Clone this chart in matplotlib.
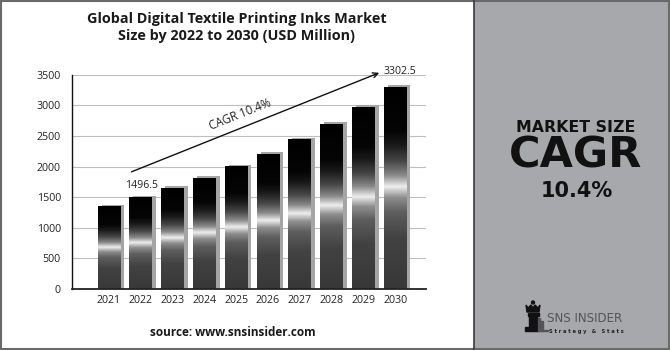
import numpy as np
import matplotlib
matplotlib.use("Agg")
import matplotlib.pyplot as plt
import matplotlib.transforms as mtransforms
from matplotlib.patches import Rectangle, Polygon, Circle
from matplotlib.colors import LinearSegmentedColormap

# ---------------- data ----------------
years = ["2021", "2022", "2023", "2024", "2025", "2026", "2027", "2028", "2029", "2030"]
values = [1350, 1496.5, 1650, 1815, 2005, 2210, 2445, 2700, 2975, 3302.5]
y_ticks = [0, 500, 1000, 1500, 2000, 2500, 3000, 3500]
title = "Global Digital Textile Printing Inks Market\nSize by 2022 to 2030 (USD Million)"
cagr_text = "CAGR 10.4%"
source_text = "source: www.snsinsider.com"

W, H = 670, 350
fig = plt.figure(figsize=(W / 100, H / 100), dpi=100)
fig.patch.set_facecolor("white")

# overlay axes in pixel coordinates for decoration
deco = fig.add_axes([0, 0, 1, 1], zorder=0)
deco.set_xlim(0, W)
deco.set_ylim(H, 0)
deco.axis("off")

# right grey panel
deco.add_patch(Rectangle((474, 0), W - 474, H, facecolor="#a7a8ab", edgecolor="none"))
deco.plot([474, 474], [0, H], color="#3a3a3a", lw=1.2)
# outer border
deco.add_patch(Rectangle((0.7, 0.7), W - 1.4, H - 1.4, facecolor="none", edgecolor="#6a6a6a", lw=1.5))

# right panel texts
deco.text(576, 128, "MARKET SIZE", ha="center", va="center", fontsize=11.3,
          fontweight="bold", family="DejaVu Sans", color="#111111")
deco.text(576, 156, "CAGR", ha="center", va="center", fontsize=31,
          fontweight="bold", family="DejaVu Sans", color="#111111")
deco.text(577, 191, "10.4%", ha="center", va="center", fontsize=15,
          fontweight="bold", family="DejaVu Sans", color="#111111")

# logo (chess piece + text)
k = "#111111"
deco.add_patch(Circle((533, 302.5), 1.5, color=k))
deco.add_patch(Polygon([(526, 305), (528, 308), (531, 305), (533, 308), (535, 305),
                        (538, 308), (540, 305), (539, 312), (527, 312)], closed=True, color=k))
deco.add_patch(Rectangle((527.5, 313), 11, 2.5, color=k))
deco.add_patch(Rectangle((529, 316), 8, 11, color=k))
deco.add_patch(Rectangle((525, 327), 14, 4, color=k))
deco.add_patch(Rectangle((538, 318), 1.8, 13, color="#555555"))
deco.add_patch(Rectangle((541, 321), 1.8, 10, color="#555555"))
deco.add_patch(Rectangle((541, 329.5), 7, 1.5, color="#555555"))
deco.text(547, 319, "SNS INSIDER", ha="left", va="center", fontsize=8.6,
          family="DejaVu Sans", color="#555555")
deco.text(549, 331, "S t r a t e g y   &   S t a t s", ha="left", va="center", fontsize=3.7,
          family="DejaVu Sans", fontweight="bold", color="#222222")

# title & source
deco.text(237, 27.5, title, ha="center", va="center", fontsize=10.4, fontweight="bold",
          family="Open Sans", color="#1a1a1a", linespacing=1.2)
deco.text(233, 332, source_text, ha="center", va="center", fontsize=8.5, fontweight="bold",
          family="Open Sans", color="#1a1a1a")

# ---------------- main chart ----------------
ax = fig.add_axes([72 / W, 1 - 289 / H, (426 - 72) / W, (289 - 74.7) / H], zorder=1)
ax.set_facecolor("none")
x = np.arange(len(years))
bw = 0.71

# shadow bars (offset a few pixels to the right and up)
shadow_tr = ax.transData + mtransforms.ScaledTranslation(4 / 100, 1.7 / 100, fig.dpi_scale_trans)
sh = ax.bar(x, [v + 40 for v in values], width=bw, bottom=-40, color="#a5a5a7",
            zorder=2, transform=shadow_tr)

bars = ax.bar(x, values, width=bw, color="#000000", zorder=3)

# vertical gradient fill for each bar
stops = [(0.0, "#383838"), (0.25, "#424242"), (0.38, "#5e5e5e"), (0.45, "#8e8e8e"),
         (0.505, "#eeeeee"), (0.56, "#8a8a8a"), (0.63, "#474747"), (0.71, "#1a1a1a"),
         (0.78, "#050505"), (1.0, "#000000")]
cmap = LinearSegmentedColormap.from_list("barshade", stops)
grad = np.linspace(0, 1, 256).reshape(-1, 1)
for rect in bars:
    x0, w, h = rect.get_x(), rect.get_width(), rect.get_height()
    im = ax.imshow(grad, cmap=cmap, origin="lower", aspect="auto",
                   extent=(x0, x0 + w, 0, h), zorder=4, interpolation="bilinear")
    im.set_clip_path(rect)

ax.set_xlim(-1.16, 9.97)
ax.set_ylim(0, 3500)
ax.set_yticks(y_ticks)
ax.set_xticks(x)
ax.set_xticklabels(years)
ax.grid(axis="y", color="#bdbdbd", lw=0.8, zorder=0)
ax.set_axisbelow(True)
for s in ["top", "right"]:
    ax.spines[s].set_visible(False)
ax.spines["left"].set_color("#111111")
ax.spines["left"].set_linewidth(1.0)
ax.spines["bottom"].set_color("#222222")
ax.spines["bottom"].set_linewidth(1.3)
ax.spines["bottom"].set_zorder(6)
ax.tick_params(axis="both", length=0, labelsize=7.7, labelcolor="#222222")
ax.tick_params(axis="y", pad=8)
ax.tick_params(axis="x", pad=4.5)
for lab in ax.get_xticklabels() + ax.get_yticklabels():
    lab.set_family("Open Sans")

# annotations
ax.annotate("", xy=(8.58, 3548), xytext=(0.63, 1897),
            arrowprops=dict(arrowstyle="->", color="#111111", lw=1.0, mutation_scale=9),
            annotation_clip=False, zorder=7)
ax.text(8.62, 3548, f"{values[-1]}", ha="left", va="center", fontsize=7.6,
        family="Open Sans", color="#222222", clip_on=False)
ax.text(1.04, values[1] + 200, f"{values[1]}", ha="center", va="center", fontsize=7.6,
        family="Open Sans", color="#222222")
ax.text(4.12, 2845, cagr_text, ha="center", va="center", rotation=21.8,
        rotation_mode="anchor", fontsize=8.3, family="Open Sans", color="#222222")

fig.savefig("out.png", dpi=100, facecolor="white")
